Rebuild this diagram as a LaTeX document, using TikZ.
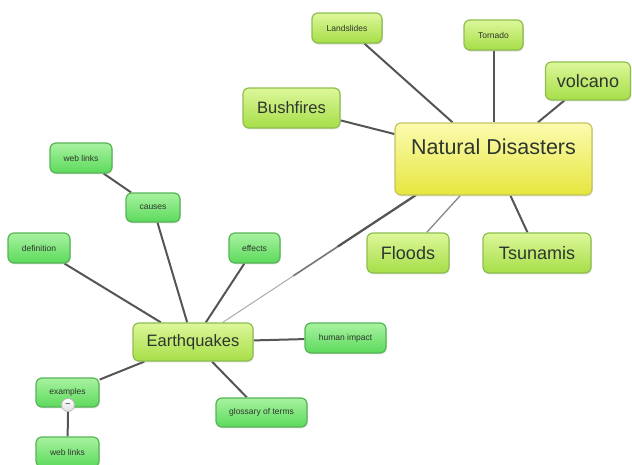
\documentclass[tikz,border=0pt]{standalone}
\usepackage{fontspec}
\setmainfont{Liberation Sans}
\usetikzlibrary{shadows,backgrounds,calc}
\definecolor{sgT}{HTML}{A8F2A0}
\definecolor{sgB}{HTML}{5CDA5C}
\definecolor{sgD}{HTML}{56B456}
\definecolor{ygT}{HTML}{DDF79A}
\definecolor{ygB}{HTML}{A6DE48}
\definecolor{ygD}{HTML}{8DBE4E}
\definecolor{ndT}{HTML}{FBFBB0}
\definecolor{ndB}{HTML}{E6E63E}
\definecolor{ndD}{HTML}{C4C460}
\definecolor{linkgray}{HTML}{555555}
\definecolor{txt}{HTML}{2E362E}
\tikzset{
  box/.style={rectangle, rounded corners=6pt, line width=1.2pt, inner sep=0pt, text=txt,
    drop shadow={opacity=0.22, shadow xshift=0.8pt, shadow yshift=-1.4pt}},
  smallbox/.style={box, draw=sgD, top color=sgT, bottom color=sgB, font=\fontsize{8.5}{10}\selectfont},
  bigbox/.style={box, draw=ygD, top color=ygT, bottom color=ygB},
  ndbox/.style={box, draw=ndD, top color=ndT, bottom color=ndB},
  link/.style={draw=linkgray, line width=2pt},
  thinlink/.style={draw=linkgray!70, line width=1.3pt},
  minusknob/.style={circle, inner sep=0pt, minimum size=13pt, draw=gray!55, line width=0.8pt,
    top color=white, bottom color=gray!25, font=\fontsize{9}{9}\selectfont\bfseries, text=gray!70!black},
}
\begin{document}
\begin{tikzpicture}[x=1pt, y=-1pt]
\useasboundingbox (0,0) rectangle (632,464);
% main topic
\node[ndbox, minimum width=197pt, minimum height=72pt] (nd) at (493.5,159) {};
\node[font=\fontsize{21.5}{24}\selectfont, text=txt] (ndtext) at (493.5,147) {Natural Disasters};
% natural disaster branches
\node[smallbox, bigbox, minimum width=70pt, minimum height=30pt] (land) at (347,28) {Landslides};
\node[smallbox, bigbox, minimum width=59pt, minimum height=30pt] (torn) at (493.5,35) {Tornado};
\node[bigbox, minimum width=85pt, minimum height=38pt, font=\fontsize{18}{20}\selectfont] (volc) at (588,81) {volcano};
\node[bigbox, minimum width=97pt, minimum height=40pt, font=\fontsize{16.5}{19}\selectfont] (bush) at (291.5,108) {Bushfires};
\node[bigbox, minimum width=82pt, minimum height=40pt, font=\fontsize{18}{20}\selectfont] (flood) at (408,253) {Floods};
\node[bigbox, minimum width=108pt, minimum height=40pt, font=\fontsize{18}{20}\selectfont] (tsun) at (537,253) {Tsunamis};
% earthquakes
\node[bigbox, minimum width=120pt, minimum height=38pt, font=\fontsize{16.5}{19}\selectfont] (eq) at (193,342) {Earthquakes};
\node[smallbox, minimum width=62pt, minimum height=30pt] (wl1) at (81,158) {web links};
\node[smallbox, minimum width=54pt, minimum height=29pt] (causes) at (153,207.5) {causes};
\node[smallbox, minimum width=62pt, minimum height=30pt] (def) at (39,248) {definition};
\node[smallbox, minimum width=51pt, minimum height=30pt] (eff) at (254.5,248) {effects};
\node[smallbox, minimum width=81pt, minimum height=30pt] (hum) at (345.5,338) {human impact};
\node[smallbox, minimum width=63pt, minimum height=29pt] (ex) at (67.5,392.5) {examples};
\node[smallbox, minimum width=91pt, minimum height=29pt] (gloss) at (261.5,412.5) {glossary of terms};
\node[smallbox, minimum width=63pt, minimum height=30pt] (wl2) at (67.5,452) {web links};
\node[minusknob] (knob) at (68,405) {--};
\coordinate (ndEq) at (416,195);
\coordinate (eqMidA) at ($(eq)!0.45!(ndEq)$);
\coordinate (eqMidB) at ($(eq)!0.65!(ndEq)$);
% connectors
\begin{scope}[on background layer]
\draw[link] (land) -- (nd);
\draw[link] (torn) -- (nd);
\draw[link] (volc) -- (nd);
\draw[link] (bush) -- (nd);
\draw[thinlink] (flood) -- (nd);
\draw[link] (tsun) -- (nd);
\draw[draw=linkgray!50, line width=1pt] (eq) -- (ndEq);
\draw[draw=linkgray!80, line width=1.6pt] (eqMidA) -- (ndEq);
\draw[draw=linkgray, line width=2.2pt] (eqMidB) -- (ndEq);
\draw[link] (wl1) -- (causes);
\draw[link] (causes) -- (eq);
\draw[link] (def) -- (eq);
\draw[link] (eff) -- (eq);
\draw[link] (hum) -- (eq);
\draw[link] (ex) -- (eq);
\draw[link] (gloss) -- (eq);
\draw[link] (knob) -- (wl2);
\end{scope}
\end{tikzpicture}
\end{document}
